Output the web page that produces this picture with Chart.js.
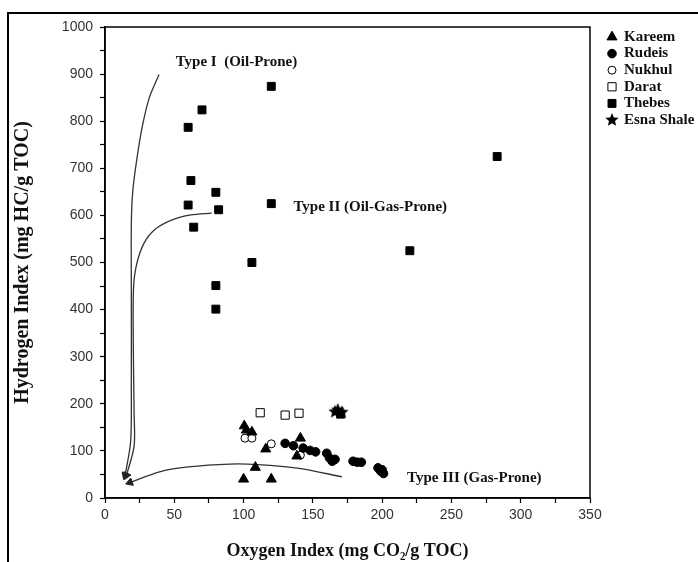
<!DOCTYPE html>
<html>
<head>
<meta charset="utf-8">
<script src="https://cdn.jsdelivr.net/npm/chart.js@4.4.1/dist/chart.umd.min.js"></script>
<style>
  html, body { margin: 0; padding: 0; background: #fff; }
</style>
</head>
<body>
<canvas id="vanKrevelen" width="698" height="562"></canvas>
<script>
// values: [oxygen index, hydrogen index]
var formations = ["Kareem", "Rudeis", "Nukhul", "Darat", "Thebes", "Esna Shale"];

var kareem = [[100, 40], [120, 40], [108.5, 65], [116, 104], [141, 127], [138.5, 89],
              [100.5, 153], [102, 144], [106, 140]];
var rudeis = [[130, 116], [136, 111], [143, 106], [148, 101], [152, 98], [160, 95],
              [162, 85], [164, 78], [166, 82], [179, 78], [182, 76], [185, 76],
              [197, 64], [199, 57], [201, 52], [200, 60]];
var nukhul = [[101, 127], [106, 127], [120, 115], [141, 91]];
var darat = [[112, 181], [130, 176], [140, 180]];
var thebes = [[120, 874], [70, 824], [60, 787], [62, 674], [80, 649], [60, 622],
              [82, 612], [64, 575], [120, 625], [106, 500], [80, 451], [80, 401],
              [220, 525], [283, 725], [170, 178]];
var esnaShale = [[166, 183], [171, 182], [168, 187]];

// kerogen type evolution paths
var typeICurve = [[39, 899], [32, 850], [27, 790], [23, 720], [20, 650], [19, 580],
                  [19, 440], [19, 250], [18.5, 120], [14.5, 48]];
var typeIICurve = [[77, 605], [62, 601], [48, 590], [36, 570], [28, 540], [22.5, 492],
                   [20.5, 440], [20.5, 300], [21, 180], [21, 110], [15.5, 48]];
var typeIIICurve = [[171, 45], [140, 63], [110, 71], [90, 72], [60, 66], [40, 56], [18, 33]];

var xTicks = [0, 50, 100, 150, 200, 250, 300, 350];
var yTicks = [0, 100, 200, 300, 400, 500, 600, 700, 800, 900, 1000];

var serif = "'Liberation Serif', 'Times New Roman', serif";
var sans = "'Liberation Sans', Arial, sans-serif";

// filled five point star for the Esna Shale marker
function makeStar(r) {
    var c = document.createElement("canvas");
    c.width = c.height = r * 2 + 2;
    var g = c.getContext("2d");
    g.fillStyle = "#000";
    g.beginPath();
    for (var i = 0; i < 10; i++) {
        var rad = i % 2 === 0 ? r : r * 0.45;
        var a = -Math.PI / 2 + i * Math.PI / 5;
        g.lineTo(r + 1 + rad * Math.cos(a), r + 1 + rad * Math.sin(a));
    }
    g.closePath();
    g.fill();
    return c;
}
var star = makeStar(7);

function marks(label, data, style, radius, fill) {
    return {
        label: label,
        data: data,
        showLine: false,
        pointStyle: style,
        pointRadius: radius,
        pointHoverRadius: radius,
        pointBackgroundColor: fill,
        pointBorderColor: "#000",
        pointBorderWidth: 1
    };
}

function curve(label, data, arrowAngle) {
    var last = data.length - 1;
    return {
        label: label,
        data: data,
        showLine: true,
        borderColor: "#333",
        borderWidth: 1.3,
        tension: 0.3,
        pointStyle: "triangle",
        pointRadius: function (c) { return c.dataIndex === last ? 4.5 : 0; },
        pointRotation: arrowAngle,
        pointBackgroundColor: "#222",
        pointBorderColor: "#222",
        pointBorderWidth: 1,
        isCurve: true
    };
}

var frame = {
    id: "frame",
    afterDraw: function (chart) {
        var ctx = chart.ctx, a = chart.chartArea;
        ctx.save();
        // outer figure border
        ctx.strokeStyle = "#000";
        ctx.lineWidth = 2;
        ctx.beginPath();
        ctx.moveTo(8, 562);
        ctx.lineTo(8, 13);
        ctx.lineTo(698, 13);
        ctx.stroke();
        // plot box
        ctx.lineWidth = 1.5;
        ctx.strokeRect(a.left, a.top, a.right - a.left, a.bottom - a.top);

        // kerogen type labels
        var xs = chart.scales.x, ys = chart.scales.y;
        ctx.fillStyle = "#111";
        ctx.font = "bold 15px " + serif;
        ctx.textBaseline = "middle";
        ctx.textAlign = "left";
        ctx.fillText("Type I  (Oil-Prone)", xs.getPixelForValue(51), ys.getPixelForValue(925));
        ctx.fillText("Type II (Oil-Gas-Prone)", xs.getPixelForValue(136), ys.getPixelForValue(618));
        ctx.fillText("Type III (Gas-Prone)", xs.getPixelForValue(218), ys.getPixelForValue(42));

        // legend
        ctx.font = "bold 15px " + serif;
        chart.data.datasets.forEach(function (ds, i) {
            if (ds.isCurve) return;
            var y = 37 + i * 16.6;
            if (ds.pointStyle === star) {
                ctx.drawImage(star, 612 - star.width / 2, y - star.height / 2);
            } else {
                ctx.fillStyle = ds.pointBackgroundColor;
                ctx.strokeStyle = "#000";
                ctx.lineWidth = 1;
                Chart.helpers.drawPoint(ctx, {
                    pointStyle: ds.pointStyle,
                    radius: ds.pointRadius,
                    rotation: 0,
                    borderWidth: 1
                }, 612, y);
            }
            ctx.fillStyle = "#111";
            ctx.fillText(ds.label, 624, y);
        });
        ctx.restore();
    }
};

new Chart(document.getElementById("vanKrevelen"), {
    type: "scatter",
    data: {
        datasets: [
            marks(formations[0], kareem, "triangle", 5.8, "#000"),
            marks(formations[1], rudeis, "circle", 4.3, "#000"),
            marks(formations[2], nukhul, "circle", 4, "#fff"),
            marks(formations[3], darat, "rect", 5.8, "#fff"),
            marks(formations[4], thebes, "rect", 5.6, "#000"),
            marks(formations[5], esnaShale, star, 7, "#000"),
            curve("Type I", typeICurve, 200),
            curve("Type II", typeIICurve, 205),
            curve("Type III", typeIIICurve, 250)
        ]
    },
    options: {
        responsive: false,
        animation: false,
        devicePixelRatio: 1,
        layout: { padding: { left: 0, top: 27, right: 108, bottom: 0 } },
        plugins: {
            legend: { display: false },
            tooltip: { enabled: false }
        },
        scales: {
            x: {
                type: "linear",
                min: 0,
                max: 350,
                afterFit: function (s) { s.height = 64; },
                afterBuildTicks: function (s) {
                    s.ticks = [];
                    for (var v = 0; v <= 350; v += 25) s.ticks.push({ value: v });
                },
                ticks: {
                    font: { family: sans, size: 14 },
                    color: "#333",
                    padding: 4,
                    maxRotation: 0,
                    autoSkip: false,
                    callback: function (v) { return xTicks.indexOf(v) >= 0 ? String(v) : ""; }
                },
                grid: { drawOnChartArea: false, color: "#000", tickLength: 5, tickWidth: 1.2 },
                border: { color: "#000", width: 1.5 },
                title: {
                    display: true,
                    text: "Oxygen Index (mg CO\u2082/g TOC)",
                    font: { family: serif, size: 18, weight: "bold" },
                    color: "#111",
                    padding: { top: 0, bottom: 0 }
                }
            },
            y: {
                type: "linear",
                min: 0,
                max: 1000,
                afterFit: function (s) { s.width = 105; },
                afterBuildTicks: function (s) {
                    s.ticks = [];
                    for (var v = 0; v <= 1000; v += 50) s.ticks.push({ value: v });
                },
                ticks: {
                    font: { family: sans, size: 14 },
                    color: "#333",
                    padding: 7,
                    autoSkip: false,
                    callback: function (v) { return yTicks.indexOf(v) >= 0 ? String(v) : ""; }
                },
                grid: { drawOnChartArea: false, color: "#000", tickLength: 5, tickWidth: 1.2 },
                border: { color: "#000", width: 1.5 },
                title: {
                    display: true,
                    text: "Hydrogen Index (mg HC/g TOC)",
                    font: { family: serif, size: 20, weight: "bold" },
                    color: "#111",
                    padding: { top: 11, bottom: 0 }
                }
            }
        }
    },
    plugins: [frame]
});
</script>
</body>
</html>
